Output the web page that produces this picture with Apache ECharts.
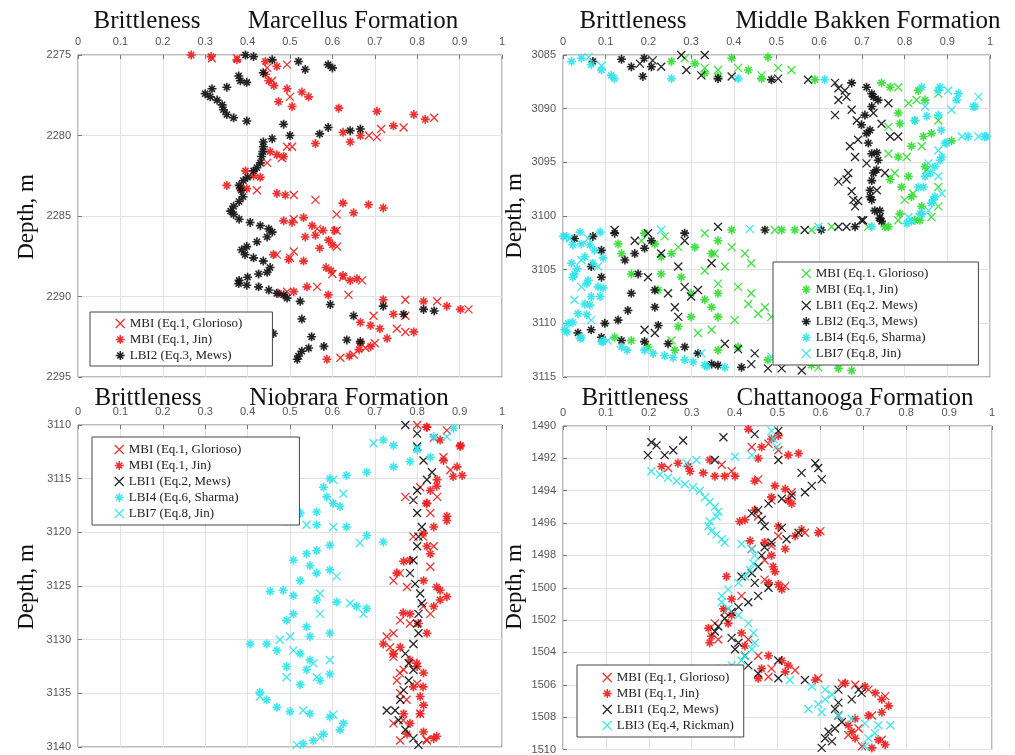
<!DOCTYPE html>
<html><head><meta charset="utf-8">
<script src="https://cdn.jsdelivr.net/npm/echarts@6/dist/echarts.min.js"></script>
<style>html,body{margin:0;padding:0;background:#fff}#c{width:1015px;height:755px}</style>
</head><body><div id="c"></div>
<script>
// ---------- tick labels / axis ranges ----------
const xTicks = [0,0.1,0.2,0.3,0.4,0.5,0.6,0.7,0.8,0.9,1];
const depthRanges = [[2275,2295,5],[3085,3115,5],[3110,3140,5],[1490,1510,2]];
const formations = ['Marcellus Formation','Middle Bakken Formation','Niobrara Formation','Chattanooga Formation'];

// ---------- Panel 1: Marcellus ----------
const p1Glorioso = [[0.316,2275.2],[0.375,2275.2],[0.493,2275.6],[0.446,2275.8],[0.458,2276.6],[0.50,2277.6],[0.84,2278.9],[0.768,2279.5],[0.715,2279.6],[0.705,2280.1],[0.686,2280.0],[0.493,2280.7],[0.505,2280.7],[0.481,2281.4],[0.446,2281.7],[0.422,2283.4],[0.509,2283.7],[0.56,2284.0],[0.61,2284.9],[0.509,2285.2],[0.61,2285.9],[0.564,2285.8],[0.611,2286.9],[0.509,2287.2],[0.469,2287.4],[0.50,2287.6],[0.60,2288.6],[0.625,2288.8],[0.67,2289.0],[0.564,2289.4],[0.493,2289.7],[0.638,2289.9],[0.772,2290.2],[0.847,2290.3],[0.921,2290.8],[0.697,2291.2],[0.772,2291.2],[0.752,2292.0],[0.772,2292.2],[0.70,2292.9],[0.678,2293.2],[0.619,2293.8],[0.65,2293.6]];
const p1Jin = [[0.267,2275.0],[0.314,2275.1],[0.375,2275.3],[0.442,2275.4],[0.469,2275.7],[0.442,2276.2],[0.45,2276.6],[0.462,2276.9],[0.493,2277.1],[0.528,2277.3],[0.544,2277.6],[0.473,2277.9],[0.505,2278.2],[0.615,2278.3],[0.705,2278.5],[0.792,2278.7],[0.819,2279.0],[0.744,2279.4],[0.625,2279.8],[0.666,2280.0],[0.56,2280.5],[0.642,2280.4],[0.453,2281.0],[0.469,2281.2],[0.485,2281.3],[0.395,2282.2],[0.414,2282.5],[0.43,2282.6],[0.351,2283.1],[0.383,2283.3],[0.398,2283.3],[0.469,2283.6],[0.489,2283.7],[0.625,2284.2],[0.685,2284.3],[0.72,2284.5],[0.65,2284.8],[0.485,2285.3],[0.505,2285.4],[0.532,2285.1],[0.552,2285.6],[0.578,2285.9],[0.605,2285.9],[0.536,2286.3],[0.56,2286.2],[0.591,2286.5],[0.60,2286.8],[0.57,2287.0],[0.461,2287.4],[0.497,2287.7],[0.532,2287.8],[0.585,2288.2],[0.597,2288.4],[0.625,2288.7],[0.642,2289.0],[0.658,2288.9],[0.54,2289.4],[0.509,2289.7],[0.473,2289.8],[0.59,2289.9],[0.72,2290.2],[0.815,2290.3],[0.902,2290.8],[0.87,2290.6],[0.744,2291.1],[0.666,2291.6],[0.69,2291.8],[0.712,2292.0],[0.792,2292.2],[0.729,2292.6],[0.666,2292.9],[0.69,2293.1],[0.663,2293.3],[0.64,2293.7],[0.587,2293.9]];
const p1LBI2 = [[0.395,2275.0],[0.414,2275.1],[0.458,2275.3],[0.52,2275.4],[0.536,2275.9],[0.59,2275.6],[0.60,2275.8],[0.437,2276.1],[0.379,2276.3],[0.383,2276.6],[0.398,2276.7],[0.351,2277.0],[0.316,2277.1],[0.30,2277.4],[0.312,2277.6],[0.328,2277.8],[0.34,2278.1],[0.343,2278.4],[0.351,2278.7],[0.367,2278.9],[0.398,2279.1],[0.485,2279.3],[0.59,2279.5],[0.666,2279.6],[0.642,2279.7],[0.57,2279.9],[0.50,2280.0],[0.458,2280.2],[0.437,2280.4],[0.437,2280.7],[0.436,2281.0],[0.433,2281.3],[0.43,2281.7],[0.422,2282.0],[0.414,2282.2],[0.40,2282.6],[0.39,2282.8],[0.38,2283.1],[0.385,2283.4],[0.389,2283.8],[0.38,2284.1],[0.367,2284.4],[0.36,2284.7],[0.367,2284.9],[0.38,2285.2],[0.406,2285.4],[0.43,2285.6],[0.45,2285.8],[0.458,2286.0],[0.446,2286.3],[0.422,2286.6],[0.398,2286.9],[0.386,2287.1],[0.394,2287.4],[0.414,2287.6],[0.437,2287.8],[0.453,2288.2],[0.446,2288.5],[0.426,2288.6],[0.40,2288.8],[0.38,2289.0],[0.379,2289.2],[0.398,2289.3],[0.426,2289.4],[0.45,2289.6],[0.469,2289.8],[0.485,2289.9],[0.493,2290.1],[0.524,2290.3],[0.595,2290.5],[0.72,2290.6],[0.815,2290.8],[0.84,2290.9],[0.768,2291.1],[0.65,2291.2],[0.528,2291.4],[0.461,2292.3],[0.551,2292.5],[0.634,2292.7],[0.666,2292.8],[0.58,2293.1],[0.544,2293.2],[0.528,2293.4],[0.52,2293.7],[0.517,2293.9]];

// ---------- Panel 2: Middle Bakken ----------
const p2Glorioso = [[0.285,3085.3],[0.332,3086.2],[0.41,3086.2],[0.504,3086.2],[0.535,3086.4],[0.363,3086.4],[0.465,3086.9],[0.785,3088.0],[0.879,3088.6],[0.809,3089.5],[0.762,3091.7],[0.879,3091.1],[0.84,3093.5],[0.777,3096.0],[0.879,3097.3],[0.80,3098.5],[0.863,3100.1],[0.785,3100.4],[0.879,3099.1],[0.762,3094.2],[0.828,3089.2],[0.805,3094.5],[0.852,3095.7],[0.82,3097.9],[0.184,3102.3],[0.238,3101.9],[0.27,3102.9],[0.332,3101.6],[0.355,3103.5],[0.395,3102.9],[0.426,3103.5],[0.441,3104.4],[0.379,3104.7],[0.332,3105.1],[0.363,3106.3],[0.41,3106.6],[0.441,3107.2],[0.434,3108.2],[0.473,3108.5],[0.457,3109.1],[0.402,3109.7],[0.348,3110.6],[0.316,3110.9],[0.254,3111.6],[0.488,3109.4],[0.535,3113.4],[0.598,3114.1],[0.629,3101.0],[0.715,3101.0],[0.582,3101.3],[0.496,3101.3]];
const p2Jin = [[0.254,3085.6],[0.309,3085.8],[0.395,3085.3],[0.48,3085.2],[0.332,3086.7],[0.434,3086.4],[0.363,3087.0],[0.465,3087.2],[0.59,3087.3],[0.746,3087.6],[0.766,3088.0],[0.832,3088.3],[0.848,3089.2],[0.785,3090.4],[0.789,3091.4],[0.824,3091.1],[0.844,3092.6],[0.863,3092.3],[0.91,3093.0],[0.816,3093.5],[0.785,3094.5],[0.848,3095.4],[0.809,3096.3],[0.766,3096.6],[0.793,3097.3],[0.816,3098.2],[0.84,3099.1],[0.789,3099.8],[0.836,3100.4],[0.824,3100.4],[0.762,3101.0],[0.129,3102.6],[0.137,3103.5],[0.16,3105.4],[0.191,3101.6],[0.215,3102.6],[0.23,3103.8],[0.254,3103.5],[0.309,3102.9],[0.348,3103.5],[0.363,3102.3],[0.395,3101.3],[0.543,3101.3],[0.512,3101.3],[0.23,3105.4],[0.277,3105.7],[0.223,3106.9],[0.30,3107.2],[0.332,3107.8],[0.363,3107.2],[0.348,3108.5],[0.30,3109.4],[0.363,3109.4],[0.27,3110.3],[0.121,3111.3],[0.16,3111.6],[0.199,3112.2],[0.262,3112.5],[0.363,3112.5],[0.41,3112.2],[0.48,3113.4],[0.582,3113.9],[0.645,3114.2],[0.676,3114.4],[0.754,3101.0]];
const p2LBI1 = [[0.332,3085.0],[0.277,3085.0],[0.21,3085.5],[0.18,3085.8],[0.23,3086.1],[0.289,3086.4],[0.324,3086.9],[0.395,3087.0],[0.504,3087.2],[0.574,3087.3],[0.637,3087.6],[0.645,3088.1],[0.66,3088.3],[0.664,3088.9],[0.645,3089.2],[0.637,3090.6],[0.676,3090.1],[0.688,3091.1],[0.727,3090.4],[0.762,3089.5],[0.766,3092.6],[0.785,3092.6],[0.672,3093.5],[0.691,3092.9],[0.684,3094.5],[0.711,3095.1],[0.668,3096.0],[0.664,3096.6],[0.645,3096.8],[0.735,3097.6],[0.676,3097.7],[0.68,3098.5],[0.684,3099.1],[0.742,3100.1],[0.699,3100.4],[0.703,3100.4],[0.664,3101.0],[0.691,3098.6],[0.754,3096.0],[0.746,3091.4],[0.121,3101.3],[0.168,3102.3],[0.199,3101.6],[0.285,3102.3],[0.23,3103.5],[0.27,3104.7],[0.348,3104.4],[0.199,3105.7],[0.246,3107.2],[0.285,3106.6],[0.316,3106.9],[0.262,3108.5],[0.27,3109.4],[0.30,3107.5],[0.363,3101.0],[0.566,3101.3],[0.645,3101.0],[0.191,3110.6],[0.215,3110.9],[0.379,3111.9],[0.41,3112.4],[0.449,3112.8],[0.441,3113.8],[0.48,3114.2],[0.512,3114.2],[0.559,3114.4]];
const p2LBI2 = [[0.07,3085.6],[0.137,3085.4],[0.16,3086.1],[0.19,3085.3],[0.207,3086.1],[0.187,3087.0],[0.363,3087.2],[0.488,3087.3],[0.676,3087.6],[0.711,3088.0],[0.723,3088.6],[0.727,3088.9],[0.738,3089.2],[0.723,3089.8],[0.707,3090.6],[0.699,3091.5],[0.719,3092.0],[0.711,3092.3],[0.715,3093.2],[0.735,3094.1],[0.723,3094.2],[0.738,3094.8],[0.734,3095.7],[0.727,3096.0],[0.723,3096.7],[0.719,3097.6],[0.719,3098.2],[0.723,3098.5],[0.73,3099.5],[0.742,3099.5],[0.742,3100.2],[0.746,3100.5],[0.027,3102.1],[0.07,3101.9],[0.121,3101.6],[0.09,3103.2],[0.066,3104.7],[0.09,3105.7],[0.145,3104.1],[0.168,3103.5],[0.191,3103.0],[0.207,3102.3],[0.285,3101.6],[0.176,3105.4],[0.16,3107.2],[0.152,3108.8],[0.129,3109.7],[0.098,3110.0],[0.066,3110.6],[0.035,3110.9],[0.09,3111.3],[0.137,3111.6],[0.191,3111.7],[0.246,3111.9],[0.285,3112.2],[0.316,3112.8],[0.348,3113.8],[0.363,3113.9],[0.418,3114.1],[0.473,3101.3],[0.605,3101.3],[0.684,3101.0],[0.215,3108.5],[0.215,3106.9],[0.223,3110.2]];
const p2LBI4 = [[0.02,3085.6],[0.043,3085.3],[0.066,3085.9],[0.09,3086.4],[0.113,3086.9],[0.12,3087.2],[0.254,3087.2],[0.41,3087.2],[0.613,3087.3],[0.84,3088.0],[0.883,3088.0],[0.879,3088.3],[0.926,3088.6],[0.922,3089.2],[0.961,3089.8],[0.965,3089.8],[0.852,3090.7],[0.879,3090.6],[0.824,3091.1],[0.886,3092.0],[0.949,3092.6],[0.988,3092.6],[0.992,3092.6],[0.895,3093.2],[0.899,3093.2],[0.887,3094.5],[0.883,3094.8],[0.871,3095.4],[0.86,3096.0],[0.848,3096.3],[0.832,3097.3],[0.844,3097.3],[0.871,3098.2],[0.867,3098.5],[0.863,3098.8],[0.84,3099.8],[0.836,3099.8],[0.816,3100.5],[0.805,3100.7],[0.723,3101.0],[0.001,3101.9],[0.04,3101.5],[0.087,3101.5],[0.008,3101.9],[0.043,3102.6],[0.023,3102.7],[0.063,3102.7],[0.074,3103.2],[0.094,3103.9],[0.051,3103.8],[0.07,3104.4],[0.02,3104.4],[0.033,3104.9],[0.027,3105.4],[0.023,3105.7],[0.059,3106.0],[0.056,3106.3],[0.082,3106.6],[0.094,3106.7],[0.066,3107.5],[0.087,3107.5],[0.051,3108.2],[0.063,3108.3],[0.035,3109.1],[0.056,3109.2],[0.023,3109.9],[0.012,3110.0],[0.004,3110.6],[0.009,3110.8],[0.043,3111.3],[0.04,3111.4],[0.09,3111.7],[0.094,3111.7],[0.137,3112.2],[0.15,3112.5],[0.191,3112.5],[0.211,3112.8],[0.238,3113.0],[0.258,3113.2],[0.285,3113.4],[0.305,3113.6],[0.332,3113.9],[0.337,3114.0],[0.379,3114.1]];
const p2LBI7 = [[0.902,3088.3],[0.973,3088.9],[0.91,3090.1],[0.848,3089.8],[0.934,3092.6],[0.973,3092.6],[0.879,3093.9],[0.856,3095.1],[0.879,3096.3],[0.887,3097.9],[0.856,3099.5],[0.809,3100.1],[0.598,3101.0],[0.4375,3101.2],[0.016,3102.1],[0.059,3102.1],[0.043,3104.1],[0.082,3104.7],[0.043,3106.6],[0.027,3107.8],[0.066,3109.7],[0.105,3111.6],[0.23,3101.3],[0.324,3112.8],[0.488,3113.1],[0.06,3085.2],[0.09,3086.0]];

// ---------- Panel 3: Niobrara ----------
const p3Glorioso = [[0.80,3110.0],[0.87,3110.5],[0.839,3111.2],[0.862,3113.0],[0.878,3114.2],[0.807,3115.8],[0.772,3116.7],[0.847,3116.7],[0.831,3118.2],[0.791,3120.4],[0.814,3120.4],[0.839,3121.3],[0.831,3123.2],[0.759,3123.8],[0.744,3124.5],[0.776,3125.1],[0.814,3126.9],[0.831,3127.6],[0.76,3128.2],[0.783,3128.5],[0.744,3129.4],[0.728,3129.7],[0.736,3130.7],[0.744,3131.3],[0.744,3131.6],[0.768,3132.8],[0.759,3133.1],[0.752,3133.8],[0.76,3135.0],[0.775,3135.6],[0.80,3134.1],[0.807,3136.9],[0.767,3137.5],[0.744,3137.8],[0.76,3139.4],[0.823,3139.4],[0.822,3139.3]];
const p3Jin = [[0.823,3110.2],[0.822,3110.2],[0.854,3111.4],[0.902,3111.9],[0.901,3112.0],[0.862,3113.3],[0.894,3113.9],[0.906,3114.7],[0.885,3114.8],[0.847,3115.1],[0.846,3115.7],[0.831,3116.1],[0.823,3117.3],[0.822,3117.3],[0.87,3118.5],[0.87,3118.9],[0.839,3119.5],[0.815,3120.1],[0.823,3121.3],[0.831,3122.0],[0.768,3122.7],[0.783,3122.6],[0.752,3123.8],[0.815,3124.5],[0.846,3125.1],[0.854,3125.4],[0.87,3126.0],[0.854,3126.3],[0.839,3126.9],[0.783,3127.6],[0.767,3127.5],[0.803,3128.5],[0.823,3129.4],[0.76,3130.7],[0.72,3130.4],[0.744,3131.3],[0.783,3131.9],[0.799,3132.2],[0.80,3132.5],[0.815,3133.1],[0.791,3134.4],[0.814,3134.4],[0.807,3135.3],[0.815,3136.1],[0.807,3136.9],[0.768,3136.9],[0.783,3137.8],[0.776,3138.8],[0.815,3138.6],[0.846,3139.0],[0.839,3139.2]];
const p3LBI1 = [[0.772,3110.0],[0.80,3110.8],[0.80,3112.0],[0.815,3113.3],[0.835,3114.4],[0.823,3115.1],[0.80,3116.1],[0.791,3117.0],[0.80,3118.2],[0.811,3119.5],[0.803,3120.4],[0.80,3121.3],[0.791,3122.6],[0.783,3123.8],[0.795,3124.8],[0.807,3125.7],[0.811,3126.6],[0.803,3127.6],[0.80,3128.5],[0.803,3129.4],[0.791,3130.4],[0.772,3131.3],[0.78,3132.2],[0.791,3132.8],[0.78,3133.8],[0.768,3134.7],[0.76,3135.6],[0.748,3136.6],[0.756,3137.5],[0.772,3138.4],[0.791,3139.2],[0.803,3139.8],[0.728,3136.6]];
const p3LBI4 = [[0.886,3110.3],[0.839,3111.1],[0.72,3111.4],[0.744,3111.9],[0.80,3112.3],[0.831,3113.0],[0.783,3113.4],[0.744,3113.9],[0.681,3114.4],[0.633,3114.7],[0.594,3115.0],[0.579,3115.8],[0.587,3116.7],[0.602,3117.3],[0.618,3117.6],[0.563,3118.1],[0.524,3118.2],[0.492,3119.0],[0.563,3119.3],[0.633,3119.5],[0.681,3120.3],[0.72,3120.9],[0.594,3121.2],[0.563,3121.7],[0.539,3122.0],[0.508,3122.6],[0.547,3123.1],[0.594,3123.5],[0.563,3123.8],[0.524,3124.5],[0.484,3125.4],[0.453,3125.5],[0.508,3125.9],[0.563,3126.3],[0.61,3126.5],[0.657,3126.9],[0.681,3127.1],[0.508,3127.6],[0.492,3128.2],[0.539,3128.8],[0.547,3129.7],[0.594,3129.4],[0.445,3130.4],[0.406,3130.4],[0.469,3131.0],[0.524,3131.3],[0.547,3131.9],[0.492,3132.5],[0.539,3132.8],[0.594,3133.2],[0.571,3133.8],[0.524,3134.2],[0.429,3134.9],[0.445,3135.6],[0.469,3136.3],[0.50,3136.7],[0.547,3136.9],[0.594,3137.2],[0.626,3137.8],[0.618,3138.4],[0.579,3138.8],[0.555,3139.4],[0.531,3139.7]];
const p3LBI7 = [[0.87,3111.1],[0.80,3112.2],[0.697,3111.7],[0.602,3115.1],[0.626,3116.4],[0.516,3118.2],[0.539,3119.3],[0.602,3119.5],[0.665,3121.0],[0.61,3124.1],[0.571,3125.7],[0.642,3126.6],[0.673,3127.6],[0.571,3127.6],[0.50,3129.7],[0.476,3130.0],[0.508,3131.0],[0.594,3131.9],[0.555,3132.2],[0.563,3133.5],[0.492,3133.5],[0.429,3135.3],[0.531,3136.6],[0.602,3137.0],[0.571,3139.1],[0.516,3139.8]];

// ---------- Panel 4: Chattanooga ----------
const p4Glorioso = [[0.44,1491.3],[0.479,1491.1],[0.502,1491.5],[0.37,1492.4],[0.393,1492.8],[0.245,1492.6],[0.455,1493.3],[0.533,1494.1],[0.486,1494.6],[0.455,1495.6],[0.502,1496.8],[0.564,1496.6],[0.60,1496.5],[0.486,1497.4],[0.44,1497.6],[0.47,1498.3],[0.518,1499.9],[0.47,1499.5],[0.416,1500.5],[0.377,1501.5],[0.354,1502.2],[0.362,1503.2],[0.432,1503.2],[0.455,1504.2],[0.486,1505.0],[0.541,1505.1],[0.479,1505.5],[0.595,1505.6],[0.65,1505.9],[0.681,1506.0],[0.712,1506.3],[0.751,1506.7],[0.72,1507.9],[0.689,1508.7],[0.665,1509.1],[0.697,1509.8],[0.743,1509.4]];
const p4Jin = [[0.432,1490.2],[0.486,1490.8],[0.502,1490.6],[0.463,1491.3],[0.455,1492.0],[0.525,1491.8],[0.549,1491.7],[0.342,1492.1],[0.268,1492.3],[0.23,1492.5],[0.292,1492.5],[0.327,1492.9],[0.354,1493.1],[0.377,1493.1],[0.401,1493.1],[0.296,1492.8],[0.447,1493.4],[0.494,1493.7],[0.518,1493.9],[0.486,1494.4],[0.525,1494.6],[0.533,1494.8],[0.447,1495.2],[0.424,1495.8],[0.412,1495.9],[0.502,1496.2],[0.541,1496.8],[0.595,1496.6],[0.556,1496.4],[0.436,1497.1],[0.47,1497.2],[0.518,1497.6],[0.486,1498.0],[0.49,1498.7],[0.494,1499.0],[0.381,1499.3],[0.479,1499.7],[0.51,1500.1],[0.502,1499.8],[0.393,1500.7],[0.374,1501.3],[0.393,1501.7],[0.385,1502.2],[0.339,1502.5],[0.346,1503.0],[0.342,1503.4],[0.416,1502.8],[0.424,1503.6],[0.479,1504.2],[0.51,1504.5],[0.525,1504.8],[0.463,1505.0],[0.518,1505.2],[0.455,1505.6],[0.588,1505.7],[0.658,1505.9],[0.704,1506.1],[0.728,1506.5],[0.743,1506.9],[0.759,1507.3],[0.743,1507.7],[0.712,1507.9],[0.681,1508.1],[0.665,1508.5],[0.673,1508.9],[0.681,1509.3],[0.735,1509.4],[0.751,1509.7],[0.72,1509.9]];
const p4LBI1 = [[0.502,1490.3],[0.447,1490.5],[0.374,1490.7],[0.28,1490.9],[0.206,1491.0],[0.218,1491.2],[0.257,1491.5],[0.237,1491.8],[0.198,1491.8],[0.354,1492.1],[0.502,1492.1],[0.588,1492.3],[0.595,1492.6],[0.556,1492.9],[0.603,1493.3],[0.58,1493.7],[0.564,1494.1],[0.533,1494.3],[0.51,1494.5],[0.479,1494.8],[0.455,1495.2],[0.44,1495.4],[0.463,1495.8],[0.47,1496.2],[0.51,1496.3],[0.549,1496.6],[0.521,1497.0],[0.486,1497.2],[0.47,1497.5],[0.463,1498.0],[0.455,1498.7],[0.44,1499.1],[0.416,1499.3],[0.447,1499.7],[0.479,1500.0],[0.455,1500.5],[0.432,1500.9],[0.409,1501.2],[0.393,1501.5],[0.377,1501.9],[0.362,1502.4],[0.354,1502.7],[0.393,1503.1],[0.409,1503.4],[0.401,1503.8],[0.424,1504.2],[0.502,1504.5],[0.432,1504.8],[0.455,1505.3],[0.502,1505.6],[0.564,1505.7],[0.642,1506.3],[0.689,1506.3],[0.696,1506.5],[0.673,1506.9],[0.642,1507.1],[0.634,1507.5],[0.642,1507.9],[0.65,1508.3],[0.634,1508.7],[0.619,1508.9],[0.611,1509.3],[0.627,1509.5],[0.603,1509.9]];
const p4LBI3 = [[0.486,1490.3],[0.49,1490.8],[0.498,1491.3],[0.44,1491.8],[0.401,1491.9],[0.311,1492.1],[0.288,1492.3],[0.206,1492.8],[0.226,1493.0],[0.245,1493.2],[0.265,1493.4],[0.284,1493.6],[0.303,1493.8],[0.319,1494.0],[0.331,1494.4],[0.342,1494.7],[0.354,1495.0],[0.362,1495.3],[0.358,1495.6],[0.342,1495.9],[0.339,1496.2],[0.346,1496.5],[0.358,1496.7],[0.37,1497.0],[0.377,1497.2],[0.416,1497.3],[0.44,1497.6],[0.447,1498.0],[0.444,1498.5],[0.436,1498.9],[0.424,1499.3],[0.409,1499.7],[0.385,1500.1],[0.37,1500.5],[0.37,1500.9],[0.385,1501.3],[0.409,1501.7],[0.432,1502.2],[0.444,1502.8],[0.447,1503.4],[0.44,1503.8],[0.424,1504.2],[0.416,1504.5],[0.393,1504.8],[0.37,1505.0],[0.529,1505.7],[0.58,1506.1],[0.611,1506.3],[0.627,1506.6],[0.611,1506.9],[0.595,1507.2],[0.572,1507.5],[0.603,1507.7],[0.642,1507.9],[0.673,1508.1],[0.704,1508.4],[0.735,1508.5],[0.763,1508.5],[0.727,1509.0],[0.712,1509.3],[0.704,1509.8]];

// ---------- styling ----------
const RED = '#ee2020', GREEN = '#33dd33', CYAN = '#30e4ea', BLACK = '#111111';
const XSYM = 'path://M0,0L10,10M10,0L0,10';
const STAR = 'path://M5,0L5,10M0,5L10,5M1.6,1.6L8.4,8.4M8.4,1.6L1.6,8.4';
const SERIF = '"Liberation Serif","Times New Roman",serif';
const SANS = '"Liberation Sans",Arial,sans-serif';

const grids = [
  {left:78, top:55, width:424, height:322},
  {left:563, top:55, width:427, height:322},
  {left:78, top:425, width:424, height:322},
  {left:563, top:426, width:429, height:325}
];

function mk(name, data, gi, sym, color) {
  const isStar = sym === STAR;
  return {
    type:'scatter', name, data, xAxisIndex:gi, yAxisIndex:gi,
    symbol:sym, symbolSize: isStar ? 9 : 8,
    itemStyle:{color:'transparent', borderColor:color, borderWidth: isStar ? 1.6 : 1.3, opacity:0.92},
    emphasis:{disabled:true}, animation:false
  };
}

const N = {
  glo:'MBI (Eq.1, Glorioso)', gloB:'MBI (Eq.1. Glorioso)', jin:'MBI (Eq.1, Jin)',
  l1:'LBI1 (Eq.2, Mews)', l1B:'LBI1 (Eq.2. Mews)', l2:'LBI2 (Eq.3, Mews)',
  l3:'LBI3 (Eq.4, Rickman)', l4:'LBI4 (Eq.6, Sharma)', l7:'LBI7 (Eq.8, Jin)'
};

const series = [
  mk(N.glo, p1Glorioso, 0, XSYM, RED),
  mk(N.jin, p1Jin, 0, STAR, RED),
  mk(N.l2, p1LBI2, 0, STAR, BLACK),

  mk(N.gloB, p2Glorioso, 1, XSYM, GREEN),
  mk(N.jin+' ', p2Jin, 1, STAR, GREEN),
  mk(N.l1B, p2LBI1, 1, XSYM, BLACK),
  mk(N.l2, p2LBI2, 1, STAR, BLACK),
  mk(N.l4, p2LBI4, 1, STAR, CYAN),
  mk(N.l7, p2LBI7, 1, XSYM, CYAN),

  mk(N.glo, p3Glorioso, 2, XSYM, RED),
  mk(N.jin, p3Jin, 2, STAR, RED),
  mk(N.l1, p3LBI1, 2, XSYM, BLACK),
  mk(N.l4, p3LBI4, 2, STAR, CYAN),
  mk(N.l7, p3LBI7, 2, XSYM, CYAN),

  mk(N.glo, p4Glorioso, 3, XSYM, RED),
  mk(N.jin, p4Jin, 3, STAR, RED),
  mk(N.l1, p4LBI1, 3, XSYM, BLACK),
  mk(N.l3, p4LBI3, 3, XSYM, CYAN)
];

function li(name, sym, color) {
  return {name, icon:sym, itemStyle:{color:'transparent', borderColor:color, borderWidth: sym===STAR?1.5:1.2}};
}
function legend(left, top, items, pad) {
  return {
    orient:'vertical', left, top, itemWidth:9, itemHeight:9, itemGap:3,
    padding: pad, borderColor:'#444', borderWidth:1, backgroundColor:'#fff',
    textStyle:{fontFamily:SERIF, fontSize:13, color:'#222'},
    data: items, selectedMode:false
  };
}

const legends = [
  legend(90, 312, [li(N.glo,XSYM,RED), li(N.jin,STAR,RED), li(N.l2,STAR,BLACK)], [5,30,4,25]),
  legend(773, 262, [li(N.gloB,XSYM,GREEN), li(N.jin+' ',STAR,GREEN), li(N.l1B,XSYM,BLACK), li(N.l2,STAR,BLACK), li(N.l4,STAR,CYAN), li(N.l7,XSYM,CYAN)], [5,50,5,28]),
  legend(92, 437, [li(N.glo,XSYM,RED), li(N.jin,STAR,RED), li(N.l1,XSYM,BLACK), li(N.l4,STAR,CYAN), li(N.l7,XSYM,CYAN)], [6,58,5,22]),
  legend(577, 665, [li(N.glo,XSYM,RED), li(N.jin,STAR,RED), li(N.l1,XSYM,BLACK), li(N.l3,XSYM,CYAN)], [6,10,5,25])
];

const xAxes = grids.map((g,i)=>({
  type:'value', gridIndex:i, position:'top', min:xTicks[0], max:xTicks[xTicks.length-1], interval:0.1,
  axisLine:{show:false}, axisTick:{show:true, inside:true, length:4, lineStyle:{color:'#777'}},
  axisLabel:{color:'#555', fontFamily:SANS, fontSize:11, margin:8, formatter:v=>String(+v.toFixed(1))},
  splitLine:{show:true, lineStyle:{color:'#e2e2e2', width:1}}
}));
const yAxes = depthRanges.map((r,i)=>({
  type:'value', gridIndex:i, inverse:true, min:r[0], max:r[1], interval:r[2],
  axisLine:{show:false}, axisTick:{show:true, inside:true, length:4, lineStyle:{color:'#777'}},
  axisLabel:{color:'#555', fontFamily:SANS, fontSize:11, margin:7, formatter:v=>String(v)},
  splitLine:{show:true, lineStyle:{color:'#e2e2e2', width:1}}
}));

function txt(x, y, t, rot, size) {
  return {type:'text', x, y, rotation: rot||0, z:10,
    style:{text:t, font:size+'px '+SERIF, fill:'#111', textAlign:'center', textVerticalAlign:'middle'}};
}
const titlePos = [[147,21,353,21],[633,21,868,21],[148,398,349,398],[635,398,855,398]];
const depthPos = [[27,217],[515,216],[27,587],[515,587]];
const graphics = [];
titlePos.forEach((p,i)=>{ graphics.push(txt(p[0],p[1],'Brittleness',0,25)); graphics.push(txt(p[2],p[3],formations[i],0,25)); });
depthPos.forEach(p=>graphics.push(txt(p[0],p[1],'Depth, m',Math.PI/2,23)));

const chart = echarts.init(document.getElementById('c'), null, {renderer:'canvas'});
chart.setOption({
  backgroundColor:'#fff', animation:false,
  grid: grids.map(g=>Object.assign({show:true, borderColor:'#777', borderWidth:1, backgroundColor:'transparent', containLabel:false}, g)),
  xAxis:xAxes, yAxis:yAxes, legend:legends, series, graphic:graphics
});
</script></body></html>
